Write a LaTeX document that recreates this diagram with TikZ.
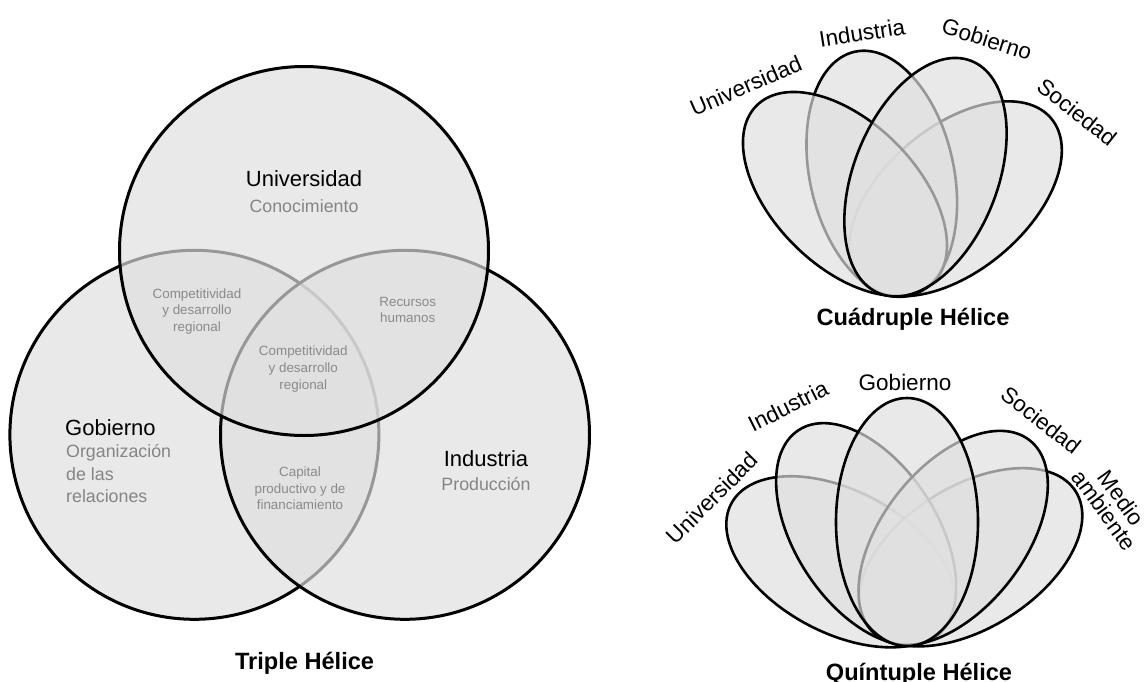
\documentclass[tikz,border=0pt]{standalone}
\usepackage{fontspec}
\setmainfont{Liberation Sans}
\begin{document}
\begin{tikzpicture}[x=1pt,y=-1pt,
  venn/.style={draw=black, line width=3pt, fill=black!12, fill opacity=0.68},
  petal/.style={draw=black, line width=2.6pt, fill=black!12, fill opacity=0.68},
  big/.style={font=\fontsize{22}{26}\selectfont, text=black, inner sep=0pt},
  sub/.style={font=\fontsize{17.8}{22}\selectfont, text=black!48, inner sep=0pt},
  small/.style={font=\fontsize{13.4}{16.6}\selectfont, text=black!46, align=center, inner sep=0pt},
  title/.style={font=\fontsize{23.6}{28}\selectfont\bfseries, text=black, inner sep=0pt},
  plabel/.style={font=\fontsize{22.5}{22}\selectfont, text=black, inner sep=0pt},
]
\fill[white] (0,0) rectangle (1146,681);
\useasboundingbox (0,0) rectangle (1146,681);

% ---------- Triple Helice ----------
\draw[venn] (194.4,434.8) circle [radius=184.5pt];
\draw[venn] (405,434.8) circle [radius=184.5pt];
\draw[venn] (304,251) circle [radius=184.5pt];

\node[big, anchor=base] (tU) at (304,186) {Universidad};
\node[sub, anchor=base] (tUs) at (304,212) {Conocimiento};
\node[big, anchor=base west] (tG) at (65,435) {Gobierno};
\node[sub, anchor=base west] (tGs1) at (66,457.5) {Organización};
\node[sub, anchor=base west] (tGs2) at (66,480) {de las};
\node[sub, anchor=base west] (tGs3) at (66,502.5) {relaciones};
\node[big, anchor=base] (tI) at (486,466.7) {Industria};
\node[sub, anchor=base] (tIs) at (486,490) {Producción};

\node[small] (tUG) at (197,311.3) {Competitividad\\y desarrollo\\regional};
\node[small] (tUI) at (407.7,310) {Recursos\\humanos};
\node[small] (tUGI) at (303.3,369) {Competitividad\\y desarrollo\\regional};
\node[small] (tGI) at (300,488.3) {Capital\\productivo y de\\financiamiento};

\node[title, anchor=base] (tT) at (304.6,669) {Triple Hélice};

% ---------- Cuadruple Helice ----------
\coordinate (R4) at (898,247);
\draw[petal, rotate around={-50:(R4)}] (898,172) ellipse [x radius=72pt, y radius=125pt];
\draw[petal, rotate around={12.5:(R4)}] (898,172) ellipse [x radius=72pt, y radius=125pt];
\draw[petal, rotate around={45:(R4)}] (898,172) ellipse [x radius=72pt, y radius=125pt];
\draw[petal, rotate around={-21.5:(R4)}] (898,172) ellipse [x radius=72pt, y radius=125pt];

\node[plabel, rotate=23.4] (qU) at (745.8,85.8) {Universidad};
\node[plabel, rotate=9] (qI) at (862,33) {Industria};
\node[plabel, rotate=-17.4] (qG) at (987,39) {Gobierno};
\node[plabel, rotate=-38.4] (qS) at (1077,112) {Sociedad};
\node[title, anchor=base] (qT) at (913,325) {Cuádruple Hélice};

% ---------- Quintuple Helice ----------
\coordinate (R5) at (907,597);
\draw[petal, rotate around={62:(R5)}] (907,522) ellipse [x radius=71pt, y radius=124pt];
\draw[petal, rotate around={-58:(R5)}] (907,522) ellipse [x radius=71pt, y radius=124pt];
\draw[petal, rotate around={33:(R5)}] (907,522) ellipse [x radius=71pt, y radius=124pt];
\draw[petal, rotate around={-38:(R5)}] (907,522) ellipse [x radius=71pt, y radius=124pt];
\draw[petal] (907,522) ellipse [x radius=71pt, y radius=124pt];

\node[plabel, rotate=45] (pU) at (712,498) {Universidad};
\node[plabel, rotate=26.6] (pI) at (788,406) {Industria};
\node[plabel] (pG) at (905,382) {Gobierno};
\node[plabel, rotate=-38] (pS) at (1041,420) {Sociedad};
\node[plabel, rotate=-54, align=center, font=\fontsize{22.5}{21}\selectfont] (pM) at (1113,504) {Medio\\ambiente};
\node[title, anchor=base] (pT) at (919,680) {Quíntuple Hélice};
\end{tikzpicture}
\end{document}
